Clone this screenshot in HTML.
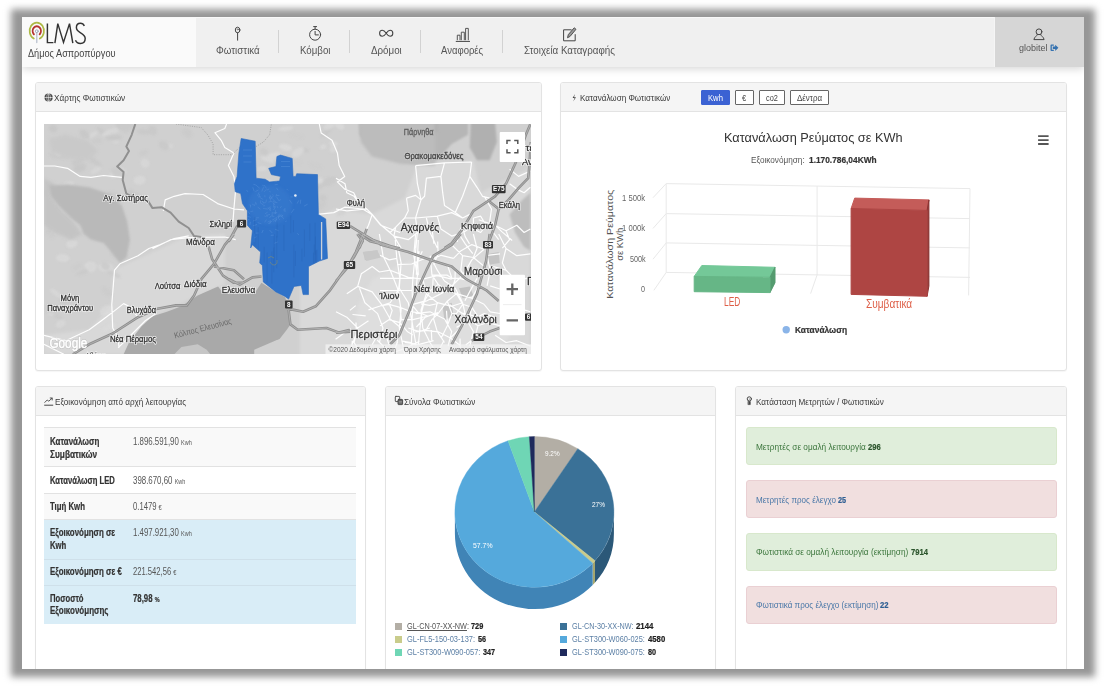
<!DOCTYPE html>
<html lang="el">
<head>
<meta charset="utf-8">
<title>LMS - Δήμος Ασπροπύργου</title>
<style>
html,body{margin:0;padding:0;background:#fff;}
body{width:1106px;height:686px;overflow:hidden;position:relative;font-family:"Liberation Sans",sans-serif;}
#frame{position:absolute;left:22px;top:17px;width:1062px;height:652px;background:#fff;overflow:hidden;}
#shadow{position:absolute;left:11px;top:9px;width:1084px;height:668px;background:#969696;filter:blur(3.6px);}
.t{position:absolute;white-space:nowrap;line-height:1;transform-origin:0 50%;display:inline-block;}
.abs{position:absolute;}
#hdr{position:absolute;left:0;top:0;width:1062px;height:49.5px;background:#f0f0f0;box-shadow:0 2px 8px rgba(0,0,0,.16);border-top:1px solid #f8f8f8;box-sizing:border-box;}
#logo{position:absolute;left:0;top:0;width:174px;height:100%;background:#fafafa;}
#user{position:absolute;left:972px;top:-1px;width:90px;bottom:0;background:#d6d6d6;border-left:1px solid #f5f5f5;box-sizing:border-box;}
.sep{position:absolute;top:11.5px;width:1.2px;height:23px;background:#d2d2d2;}
.panel{position:absolute;background:#fff;border:1px solid #e3e3e3;border-radius:3px;box-sizing:border-box;box-shadow:0 1px 1px rgba(0,0,0,.04);}
.ph{position:absolute;left:0;top:0;right:0;height:28px;background:#f5f5f5;border-bottom:1px solid #e3e3e3;border-radius:2px 2px 0 0;}
.row{position:absolute;left:22px;width:312px;box-sizing:border-box;border-top:1px solid #e2e2e2;}
.alert{position:absolute;left:724px;width:311px;height:38px;box-sizing:border-box;border-radius:3px;}
.ok{background:#e0eedb;border:1px solid #d8e8cc;}
.bad{background:#f1dfdf;border:1px solid #ead0d3;}
.btn{position:absolute;top:72.6px;height:15.4px;box-sizing:border-box;border:1px solid #666;border-radius:1px;background:#fff;}
.lg{position:absolute;width:7px;height:7px;}
</style>
</head>
<body>
<div id="shadow"></div>
<div id="frame">
  <div id="hdr">
    <div id="logo"></div>
    <div id="user"></div>
    <div class="sep" style="left:256px"></div>
    <div class="sep" style="left:327px"></div>
    <div class="sep" style="left:398px"></div>
    <div class="sep" style="left:480px"></div>
  </div>

  <!-- map panel -->
  <div class="panel" style="left:13px;top:65px;width:507px;height:289px"><div class="ph"></div></div>
  <svg class="abs" style="left:22px;top:107px" width="486.6" height="230.3" viewBox="44 124 486.6 230.3" font-family="Liberation Sans, sans-serif">
<defs><filter id="b2" x="-20%" y="-20%" width="140%" height="140%"><feGaussianBlur stdDeviation="1.6"/></filter><filter id="b1" x="-20%" y="-20%" width="140%" height="140%"><feGaussianBlur stdDeviation="1"/></filter></defs>
<rect x="44" y="124" width="487" height="231" fill="#d0d0d0"/>
<path d="M336.0 209.0 L372.2 214.4 L404.7 198.1 L417.4 165.6 L473.4 160.2 L480.7 192.7 L498.7 183.7 L530.4 167.4 L530.4 359.1 L299.8 359.1 L299.8 225.3 Z" fill="#d9d9d9" filter="url(#b2)"/>
<path d="M372.2 279.2 L408.3 261.1 L462.6 255.7 L498.7 279.2 L516.8 324.4 L498.7 354.3 L354.1 354.3 L357.7 306.3 Z" fill="#dedede" filter="url(#b2)"/>
<path d="M112.7 270.2 L188.7 235.8 L224.8 234.0 L224.8 284.6 L197.7 295.5 L152.5 316.3 L123.6 354.3 L44.0 354.3 L44.0 335.3 L89.2 329.8 L111.8 304.5 Z" fill="#d8d8d8" filter="url(#b2)"/>
<g filter="url(#b1)" opacity=".6"><ellipse cx="91.3" cy="135.5" rx="7.6" ry="2.2" fill="#dcdcdc" transform="rotate(-32 91.3 135.5)"/><ellipse cx="129.1" cy="193.1" rx="4.5" ry="2.3" fill="#c4c4c4" transform="rotate(-34 129.1 193.1)"/><ellipse cx="57.2" cy="156.3" rx="8.8" ry="2.4" fill="#c9c9c9" transform="rotate(10 57.2 156.3)"/><ellipse cx="129.1" cy="128.7" rx="7.1" ry="2.1" fill="#c9c9c9" transform="rotate(-36 129.1 128.7)"/><ellipse cx="169.3" cy="146.0" rx="4.0" ry="2.4" fill="#dadada" transform="rotate(5 169.3 146.0)"/><ellipse cx="143.6" cy="131.8" rx="7.0" ry="2.6" fill="#c6c6c6" transform="rotate(4 143.6 131.8)"/><ellipse cx="53.2" cy="128.5" rx="4.4" ry="4.0" fill="#c4c4c4" transform="rotate(22 53.2 128.5)"/><ellipse cx="112.0" cy="194.2" rx="5.5" ry="2.7" fill="#c9c9c9" transform="rotate(16 112.0 194.2)"/><ellipse cx="79.6" cy="167.7" rx="6.7" ry="4.6" fill="#c4c4c4" transform="rotate(-17 79.6 167.7)"/><ellipse cx="187.1" cy="133.0" rx="5.9" ry="4.3" fill="#c9c9c9" transform="rotate(35 187.1 133.0)"/><ellipse cx="105.6" cy="197.1" rx="3.5" ry="3.7" fill="#dadada" transform="rotate(-13 105.6 197.1)"/><ellipse cx="95.1" cy="161.7" rx="8.6" ry="2.2" fill="#c6c6c6" transform="rotate(36 95.1 161.7)"/><ellipse cx="113.2" cy="174.5" rx="3.4" ry="4.1" fill="#dcdcdc" transform="rotate(39 113.2 174.5)"/><ellipse cx="164.0" cy="145.6" rx="5.7" ry="4.0" fill="#c6c6c6" transform="rotate(35 164.0 145.6)"/><ellipse cx="95.9" cy="170.4" rx="6.5" ry="2.7" fill="#dadada" transform="rotate(-30 95.9 170.4)"/><ellipse cx="80.2" cy="153.7" rx="9.1" ry="2.2" fill="#c4c4c4" transform="rotate(-8 80.2 153.7)"/><ellipse cx="84.6" cy="134.4" rx="6.0" ry="3.7" fill="#c4c4c4" transform="rotate(39 84.6 134.4)"/><ellipse cx="143.7" cy="152.9" rx="4.6" ry="2.2" fill="#c9c9c9" transform="rotate(-21 143.7 152.9)"/><ellipse cx="78.1" cy="160.9" rx="7.1" ry="2.8" fill="#c6c6c6" transform="rotate(-28 78.1 160.9)"/><ellipse cx="122.1" cy="170.3" rx="5.2" ry="2.4" fill="#dcdcdc" transform="rotate(36 122.1 170.3)"/><ellipse cx="139.6" cy="180.2" rx="6.2" ry="4.6" fill="#dcdcdc" transform="rotate(-9 139.6 180.2)"/><ellipse cx="102.3" cy="131.9" rx="7.4" ry="2.2" fill="#c6c6c6" transform="rotate(39 102.3 131.9)"/><ellipse cx="108.3" cy="132.4" rx="7.2" ry="2.3" fill="#dcdcdc" transform="rotate(-28 108.3 132.4)"/><ellipse cx="58.8" cy="151.6" rx="3.2" ry="4.6" fill="#dcdcdc" transform="rotate(-10 58.8 151.6)"/><ellipse cx="136.6" cy="196.6" rx="7.2" ry="3.4" fill="#c6c6c6" transform="rotate(28 136.6 196.6)"/><ellipse cx="114.6" cy="130.5" rx="3.7" ry="3.0" fill="#dadada" transform="rotate(-2 114.6 130.5)"/><ellipse cx="145.0" cy="163.2" rx="4.4" ry="4.9" fill="#dadada" transform="rotate(-28 145.0 163.2)"/><ellipse cx="123.3" cy="126.1" rx="6.7" ry="4.9" fill="#c6c6c6" transform="rotate(16 123.3 126.1)"/><ellipse cx="82.1" cy="151.9" rx="4.2" ry="4.3" fill="#dcdcdc" transform="rotate(3 82.1 151.9)"/><ellipse cx="117.4" cy="172.4" rx="7.3" ry="4.4" fill="#c9c9c9" transform="rotate(24 117.4 172.4)"/><ellipse cx="77.1" cy="163.3" rx="5.5" ry="2.1" fill="#c6c6c6" transform="rotate(23 77.1 163.3)"/><ellipse cx="112.9" cy="138.7" rx="7.2" ry="3.0" fill="#dadada" transform="rotate(36 112.9 138.7)"/><ellipse cx="97.2" cy="140.8" rx="4.6" ry="2.6" fill="#c9c9c9" transform="rotate(-1 97.2 140.8)"/><ellipse cx="44.3" cy="193.1" rx="5.4" ry="3.9" fill="#c6c6c6" transform="rotate(33 44.3 193.1)"/><ellipse cx="113.8" cy="137.6" rx="8.5" ry="3.0" fill="#c4c4c4" transform="rotate(-3 113.8 137.6)"/><ellipse cx="152.5" cy="130.5" rx="4.1" ry="5.0" fill="#c6c6c6" transform="rotate(-28 152.5 130.5)"/><ellipse cx="65.3" cy="186.8" rx="9.9" ry="4.0" fill="#dadada" transform="rotate(-28 65.3 186.8)"/><ellipse cx="124.0" cy="125.6" rx="8.6" ry="4.2" fill="#c6c6c6" transform="rotate(2 124.0 125.6)"/><ellipse cx="74.8" cy="143.1" rx="5.1" ry="2.7" fill="#dcdcdc" transform="rotate(-14 74.8 143.1)"/><ellipse cx="85.4" cy="308.4" rx="3.4" ry="4.2" fill="#dddddd" transform="rotate(13 85.4 308.4)"/><ellipse cx="105.9" cy="267.2" rx="8.0" ry="4.6" fill="#dbdbdb" transform="rotate(3 105.9 267.2)"/><ellipse cx="83.8" cy="202.4" rx="5.6" ry="2.5" fill="#c8c8c8" transform="rotate(22 83.8 202.4)"/><ellipse cx="55.4" cy="218.4" rx="6.7" ry="2.4" fill="#c8c8c8" transform="rotate(-14 55.4 218.4)"/><ellipse cx="83.4" cy="272.2" rx="7.7" ry="2.3" fill="#c8c8c8" transform="rotate(-20 83.4 272.2)"/><ellipse cx="65.0" cy="300.4" rx="6.0" ry="3.7" fill="#c8c8c8" transform="rotate(-5 65.0 300.4)"/><ellipse cx="90.6" cy="265.7" rx="6.1" ry="4.1" fill="#dddddd" transform="rotate(1 90.6 265.7)"/><ellipse cx="105.4" cy="266.0" rx="4.5" ry="3.6" fill="#cbcbcb" transform="rotate(34 105.4 266.0)"/><ellipse cx="111.8" cy="226.3" rx="5.7" ry="3.2" fill="#dddddd" transform="rotate(-5 111.8 226.3)"/><ellipse cx="49.5" cy="231.3" rx="3.4" ry="4.0" fill="#c8c8c8" transform="rotate(32 49.5 231.3)"/><ellipse cx="55.7" cy="293.1" rx="7.0" ry="2.4" fill="#dbdbdb" transform="rotate(37 55.7 293.1)"/><ellipse cx="60.7" cy="323.8" rx="5.4" ry="3.5" fill="#dbdbdb" transform="rotate(-27 60.7 323.8)"/><ellipse cx="76.8" cy="267.0" rx="5.0" ry="2.6" fill="#cbcbcb" transform="rotate(-33 76.8 267.0)"/><ellipse cx="71.8" cy="243.9" rx="5.8" ry="4.1" fill="#dddddd" transform="rotate(-13 71.8 243.9)"/><ellipse cx="91.4" cy="266.6" rx="3.4" ry="5.0" fill="#dbdbdb" transform="rotate(38 91.4 266.6)"/><ellipse cx="52.0" cy="234.5" rx="3.2" ry="4.3" fill="#cbcbcb" transform="rotate(20 52.0 234.5)"/><ellipse cx="106.3" cy="310.4" rx="7.1" ry="4.8" fill="#dddddd" transform="rotate(-28 106.3 310.4)"/><ellipse cx="113.9" cy="274.2" rx="7.2" ry="2.3" fill="#c8c8c8" transform="rotate(24 113.9 274.2)"/><ellipse cx="57.9" cy="316.4" rx="4.6" ry="2.1" fill="#c8c8c8" transform="rotate(24 57.9 316.4)"/><ellipse cx="50.4" cy="311.3" rx="3.4" ry="4.6" fill="#dddddd" transform="rotate(-39 50.4 311.3)"/><ellipse cx="119.6" cy="254.3" rx="8.5" ry="3.9" fill="#c8c8c8" transform="rotate(2 119.6 254.3)"/><ellipse cx="62.1" cy="214.2" rx="4.0" ry="2.2" fill="#dbdbdb" transform="rotate(35 62.1 214.2)"/><ellipse cx="91.8" cy="269.0" rx="4.2" ry="3.3" fill="#dbdbdb" transform="rotate(-18 91.8 269.0)"/><ellipse cx="105.1" cy="329.3" rx="3.2" ry="2.1" fill="#dbdbdb" transform="rotate(1 105.1 329.3)"/><ellipse cx="62.7" cy="258.1" rx="6.9" ry="4.0" fill="#dddddd" transform="rotate(4 62.7 258.1)"/><ellipse cx="111.5" cy="326.1" rx="4.8" ry="2.6" fill="#dbdbdb" transform="rotate(-13 111.5 326.1)"/><ellipse cx="107.3" cy="291.9" rx="6.8" ry="3.2" fill="#cbcbcb" transform="rotate(39 107.3 291.9)"/><ellipse cx="107.6" cy="201.9" rx="6.8" ry="4.6" fill="#dddddd" transform="rotate(-27 107.6 201.9)"/><ellipse cx="50.4" cy="309.4" rx="8.2" ry="4.0" fill="#cbcbcb" transform="rotate(8 50.4 309.4)"/><ellipse cx="96.6" cy="205.9" rx="4.1" ry="2.8" fill="#c8c8c8" transform="rotate(-19 96.6 205.9)"/><ellipse cx="341.8" cy="212.5" rx="5.7" ry="2.5" fill="#cdcdcd" transform="rotate(-23 341.8 212.5)"/><ellipse cx="277.2" cy="154.5" rx="3.4" ry="2.6" fill="#dcdcdc" transform="rotate(-20 277.2 154.5)"/><ellipse cx="326.4" cy="132.3" rx="7.1" ry="2.3" fill="#c6c6c6" transform="rotate(-37 326.4 132.3)"/><ellipse cx="263.9" cy="151.7" rx="4.2" ry="3.2" fill="#c6c6c6" transform="rotate(28 263.9 151.7)"/><ellipse cx="274.9" cy="205.2" rx="6.9" ry="3.2" fill="#cdcdcd" transform="rotate(18 274.9 205.2)"/><ellipse cx="303.0" cy="149.9" rx="6.1" ry="2.3" fill="#c6c6c6" transform="rotate(10 303.0 149.9)"/><ellipse cx="322.9" cy="197.9" rx="3.7" ry="3.0" fill="#c6c6c6" transform="rotate(5 322.9 197.9)"/><ellipse cx="329.5" cy="125.5" rx="6.4" ry="3.6" fill="#dcdcdc" transform="rotate(-33 329.5 125.5)"/><ellipse cx="265.5" cy="182.0" rx="7.8" ry="2.8" fill="#dedede" transform="rotate(5 265.5 182.0)"/><ellipse cx="314.1" cy="181.0" rx="6.4" ry="3.0" fill="#c9c9c9" transform="rotate(-3 314.1 181.0)"/><ellipse cx="267.8" cy="208.9" rx="7.5" ry="2.2" fill="#c6c6c6" transform="rotate(-35 267.8 208.9)"/><ellipse cx="323.2" cy="146.9" rx="3.4" ry="2.5" fill="#dcdcdc" transform="rotate(-22 323.2 146.9)"/><ellipse cx="315.9" cy="165.9" rx="7.2" ry="2.2" fill="#cdcdcd" transform="rotate(21 315.9 165.9)"/><ellipse cx="313.2" cy="182.5" rx="3.4" ry="2.3" fill="#cdcdcd" transform="rotate(12 313.2 182.5)"/><ellipse cx="319.5" cy="180.5" rx="3.7" ry="3.0" fill="#dedede" transform="rotate(-18 319.5 180.5)"/><ellipse cx="317.8" cy="187.0" rx="6.4" ry="2.6" fill="#c6c6c6" transform="rotate(-17 317.8 187.0)"/><ellipse cx="300.7" cy="193.8" rx="8.0" ry="3.1" fill="#cdcdcd" transform="rotate(38 300.7 193.8)"/><ellipse cx="339.7" cy="125.6" rx="5.3" ry="3.6" fill="#dedede" transform="rotate(40 339.7 125.6)"/><ellipse cx="294.1" cy="207.4" rx="7.7" ry="2.1" fill="#c9c9c9" transform="rotate(-29 294.1 207.4)"/><ellipse cx="305.5" cy="210.7" rx="3.7" ry="3.6" fill="#c6c6c6" transform="rotate(-18 305.5 210.7)"/><ellipse cx="271.4" cy="157.2" rx="5.5" ry="3.8" fill="#dedede" transform="rotate(-38 271.4 157.2)"/><ellipse cx="262.3" cy="168.7" rx="5.3" ry="2.6" fill="#dcdcdc" transform="rotate(-7 262.3 168.7)"/><ellipse cx="293.2" cy="135.0" rx="4.7" ry="2.6" fill="#cdcdcd" transform="rotate(27 293.2 135.0)"/><ellipse cx="272.0" cy="208.3" rx="6.6" ry="3.8" fill="#cdcdcd" transform="rotate(-20 272.0 208.3)"/><ellipse cx="267.4" cy="159.5" rx="7.3" ry="2.2" fill="#dedede" transform="rotate(20 267.4 159.5)"/><ellipse cx="332.9" cy="149.5" rx="3.3" ry="3.3" fill="#dcdcdc" transform="rotate(-20 332.9 149.5)"/><ellipse cx="284.1" cy="170.5" rx="3.9" ry="2.7" fill="#dedede" transform="rotate(31 284.1 170.5)"/><ellipse cx="329.4" cy="181.4" rx="7.6" ry="3.9" fill="#c6c6c6" transform="rotate(-24 329.4 181.4)"/><ellipse cx="268.7" cy="208.9" rx="5.1" ry="3.2" fill="#dcdcdc" transform="rotate(12 268.7 208.9)"/><ellipse cx="285.8" cy="128.5" rx="7.6" ry="2.3" fill="#dedede" transform="rotate(-7 285.8 128.5)"/><ellipse cx="285.4" cy="147.3" rx="6.7" ry="3.3" fill="#dedede" transform="rotate(12 285.4 147.3)"/><ellipse cx="287.0" cy="174.7" rx="5.0" ry="2.3" fill="#dcdcdc" transform="rotate(-34 287.0 174.7)"/><ellipse cx="303.6" cy="197.9" rx="5.8" ry="2.9" fill="#cdcdcd" transform="rotate(40 303.6 197.9)"/><ellipse cx="299.3" cy="136.7" rx="4.0" ry="2.2" fill="#cdcdcd" transform="rotate(4 299.3 136.7)"/><ellipse cx="288.5" cy="157.5" rx="7.0" ry="2.4" fill="#c9c9c9" transform="rotate(20 288.5 157.5)"/><ellipse cx="296.3" cy="161.7" rx="5.6" ry="2.8" fill="#cdcdcd" transform="rotate(20 296.3 161.7)"/><ellipse cx="303.3" cy="176.3" rx="4.8" ry="3.4" fill="#c6c6c6" transform="rotate(10 303.3 176.3)"/><ellipse cx="333.6" cy="143.7" rx="4.4" ry="2.5" fill="#dedede" transform="rotate(12 333.6 143.7)"/><ellipse cx="297.8" cy="152.4" rx="7.1" ry="3.9" fill="#dcdcdc" transform="rotate(-37 297.8 152.4)"/><ellipse cx="320.9" cy="205.5" rx="5.4" ry="3.2" fill="#c9c9c9" transform="rotate(-34 320.9 205.5)"/></g>
<path d="M44.0 178.2 L54.8 183.7 L51.2 196.3 L60.3 209.0 L72.9 221.6 L82.0 234.3 L71.1 239.7 L54.8 232.5 L44.0 225.3 Z" fill="#c4c4c4" filter="url(#b2)"/>
<path d="M49.4 138.5 L65.7 134.8 L87.4 140.3 L98.2 151.1 L89.2 160.2 L65.7 158.4 L51.2 151.1 Z" fill="#c9c9c9" filter="url(#b2)"/>
<path d="M49.4 185.5 L67.5 184.6 L89.2 187.3 L110.9 194.5 L121.8 205.4 L127.2 221.6 L129.9 239.7 L129.0 244.8 L126.3 257.5 L119.9 262.9 L112.7 253.8 L103.7 243.0 L91.0 239.4 L83.8 233.9 L80.2 225.3 L71.1 218.0 L58.5 205.4 L51.2 196.3 Z" fill="#b9b9b9" filter="url(#b1)"/>
<path d="M359.5 122.2 L359.5 134.8 L372.2 151.1 L395.7 160.2 L415.6 163.8 L437.3 160.2 L451.7 143.9 L468.0 134.8 L468.0 122.2 Z" fill="#b6b6b6" filter="url(#b1)"/>
<path d="M368.5 122.2 L377.6 140.3 L401.1 149.3 L422.8 143.9 L437.3 131.2 L437.3 122.2 Z" fill="#aeaeae" filter="url(#b2)"/>
<path d="M470.7 122.2 L469.8 147.5 L477.0 160.2 L489.7 160.2 L496.9 142.1 L495.1 122.2 Z" fill="#b0b0b0" filter="url(#b1)"/>
<path d="M530.4 192.7 L522.3 199.9 L509.6 214.4 L515.0 232.5 L524.1 247.0 L530.4 250.6 Z" fill="#bdbdbd" filter="url(#b1)"/>
<path d="M359.1 122.2 L360.9 142.1 L371.8 156.5 L400.0 163.8 L435.1 165.6 L435.1 122.2 Z" fill="#bcbcbc" filter="url(#b2)"/>
<path d="M459.0 288.2 L469.8 286.4 L473.4 295.5 L462.6 298.2 Z" fill="#c2c2c2" />
<path d="M442.7 306.3 L451.7 302.7 L453.5 315.4 L444.5 320.8 Z" fill="#c4c4c4" />
<path d="M363.1 252.1 L377.6 250.3 L378.5 257.5 L364.9 260.2 Z" fill="#c6c6c6" />
<path d="M487.9 253.9 L498.7 252.1 L499.7 262.9 L488.8 264.7 Z" fill="#c4c4c4" />
<path d="M362.7 252.1 L377.2 250.3 L380.8 257.5 L366.4 261.1 Z" fill="#c8c8c8" />
<path d="M123.6 354.3 L129.0 342.5 L141.6 326.2 L152.5 316.3 L167.0 311.8 L181.4 306.3 L197.7 295.5 L214.0 288.2 L218.1 286.4 L223.5 293.7 L254.2 293.7 L261.5 282.8 L275.9 291.9 L285.0 297.3 L288.6 306.3 L290.4 324.4 L286.8 329.8 L279.6 338.9 L254.2 349.7 L254.2 354.3 Z" fill="#a9a9a9"/>
<path d="M174.2 354.3 L181.4 347.0 L197.7 344.3 L206.7 349.7 L210.4 354.3 Z" fill="#c6c6c6" />
<path d="M44.0 166.0 L54.8 166.0 L67.5 168.3 L80.2 176.4 L91.0 177.3 L103.7 175.5 L121.8 177.3 M163.3 210.8 L165.2 199.9 L174.2 196.3 L185.0 193.6 L203.1 194.5 L217.6 203.6 L233.9 209.0 L244.0 209.9 M152.5 248.8 L170.6 239.7 L188.7 237.6 L224.8 237.0 L235.7 239.7 M226.6 124.0 L224.8 128.5 L214.9 132.7 L221.2 140.3 L224.8 147.5 L233.9 152.9 L228.4 165.6 L233.9 176.4 L235.7 189.1 L233.9 209.0 L233.0 221.6 M44.0 335.3 L65.7 340.7 L89.2 329.8 L103.7 319.0 L110.9 313.6 L123.6 303.6 L129.0 306.3 L138.0 317.2 M188.7 235.8 L174.2 238.5 L159.7 244.8 L148.9 248.5 L138.0 255.7 L119.9 263.8 L114.5 270.2 L111.8 304.5 L112.7 328.0 L118.1 337.1 L119.0 347.9 M118.1 347.9 L130.8 335.3 L145.3 320.8 L156.1 313.6 M44.0 344.3 L54.8 349.7 L63.9 354.3 M319.3 124.0 L321.2 133.0 L332.0 140.3 L337.4 152.9 L339.2 165.6 L344.7 176.4 L337.4 181.9 L344.7 189.1 L353.7 192.7 L357.3 199.9 M317.5 214.4 L333.8 212.6 L344.7 207.2 L362.7 209.0 L371.8 214.4 L380.8 225.3 L400.0 232.5 M415.6 165.6 L417.4 183.7 L421.0 199.9 L415.6 218.0 L417.4 232.5 L415.6 248.1 M415.6 165.6 L444.5 162.9 L471.6 162.0 M444.5 162.9 L440.9 176.4 L426.4 178.2 L424.6 196.3 L421.0 199.9 M440.9 176.4 L442.7 192.7 L444.5 205.4 L455.3 212.6 L462.6 218.0 M471.6 162.0 L469.8 176.4 L477.0 187.3 L482.5 196.3 L489.7 198.1 M469.8 176.4 L462.6 196.3 L455.3 212.6 M406.5 198.1 L415.6 195.4 L421.0 199.9 M406.5 198.1 L408.3 210.8 L404.7 218.0 L395.7 227.1 L393.9 236.1 M336.0 209.0 L346.8 210.8 L366.7 209.0 L372.2 214.4 L381.2 225.3 L393.9 236.1 L401.1 248.1 M372.2 214.4 L368.5 225.3 L363.1 236.1 L359.5 248.1 M404.7 218.0 L415.6 218.0 L437.3 216.2 L451.7 212.6 L462.6 218.0 L469.8 214.4 M336.0 178.2 L345.0 183.7 L346.8 192.7 L354.1 196.3 L359.5 203.6 L366.7 209.0 M484.3 196.3 L491.5 209.0 L489.7 221.6 L493.3 232.5 L498.7 239.7 M509.6 183.7 L516.8 189.1 L524.1 192.7 L530.4 187.3 M509.6 169.2 L518.6 176.4 L530.4 171.0 M473.4 218.0 L480.7 216.2 L486.1 225.3 L480.7 232.5 L473.4 228.9 L473.4 218.0 M393.9 236.1 L408.3 239.7 L417.4 232.5 M381.2 225.3 L390.2 232.5 L395.7 227.1 M426.4 218.0 L430.0 232.5 L437.3 248.1 M437.3 216.2 L440.9 228.9 L451.7 236.1 L462.6 232.5 M495.1 225.3 L506.0 230.7 L509.6 239.7 L502.4 248.1 M506.0 230.7 L516.8 225.3 L524.1 232.5 L530.4 228.9 M379.4 234.0 L383.0 255.7 L390.2 270.2 L397.5 288.2 L401.1 309.9 L399.3 328.0 L404.7 354.3 M397.5 244.8 L401.1 262.9 L399.3 288.2 L408.3 302.7 L411.9 320.8 L415.6 342.5 M415.6 234.0 L413.8 255.7 L417.4 275.6 L415.6 293.7 M357.7 286.4 L372.2 291.9 L383.0 306.3 L390.2 319.0 L401.1 328.0 M359.5 288.2 L364.9 302.7 L377.6 313.6 L383.0 328.0 L379.4 342.5 M368.5 309.9 L379.4 306.3 L390.2 302.7 L399.3 288.2 M379.4 272.0 L390.2 270.2 L408.3 277.4 L422.8 279.2 L437.3 275.6 L451.7 279.2 M422.8 279.2 L426.4 293.7 L437.3 302.7 L451.7 306.3 L462.6 302.7 M430.0 255.7 L437.3 270.2 L444.5 281.0 L455.3 288.2 L462.6 302.7 L466.2 319.0 M415.6 313.6 L430.0 311.8 L444.5 319.0 L451.7 331.6 L448.1 346.1 M426.4 293.7 L421.0 309.9 L422.8 328.0 L430.0 342.5 L437.3 354.3 M437.3 302.7 L433.6 319.0 L437.3 331.6 L444.5 342.5 M451.7 244.8 L462.6 255.7 L473.4 257.5 L484.3 266.5 M462.6 255.7 L460.8 270.2 L466.2 279.2 M473.4 234.0 L477.0 248.5 L473.4 257.5 M498.7 234.0 L506.0 248.5 L516.8 255.7 L530.4 253.9 M493.3 266.5 L506.0 270.2 L516.8 281.0 L530.4 277.4 M506.0 248.5 L502.4 262.9 L506.0 270.2 M451.7 306.3 L462.6 313.6 L473.4 319.0 L484.3 313.6 L495.1 317.2 M466.2 319.0 L473.4 331.6 L469.8 346.1 M368.5 320.8 L357.7 328.0 L354.1 342.5 L361.3 354.3 M336.0 311.8 L346.8 317.2 L357.7 328.0 M346.8 293.7 L357.7 286.4 L361.3 273.8 L372.2 266.5 L379.4 272.0 M408.3 328.0 L419.2 331.6 L430.0 328.0 M404.7 342.5 L419.2 344.3 L433.6 340.7 M516.8 281.0 L515.0 295.5 L524.1 309.9 L530.4 311.8 M495.1 335.3 L506.0 342.5 L516.8 340.7 L530.4 346.1 M395.3 240.0 L396.8 258.4 L399.9 278.3 L398.4 290.5 M416.7 240.0 L415.2 255.3 L412.9 278.3 L412.1 290.5 L412.9 304.3 L412.1 319.6 L411.4 345.0 M418.3 240.0 L417.5 258.4 L418.3 275.2 M380.0 278.3 L399.9 278.3 L412.9 278.3 M380.0 305.8 L389.2 304.3 L399.9 307.3 L407.6 310.4 L412.9 311.9 M412.9 304.3 L425.9 301.2 L438.2 295.1 L447.3 290.5 L459.6 278.3 L465.7 270.6 M412.9 319.6 L425.9 316.5 L438.2 313.5 L447.3 301.2 L456.5 293.6 M430.5 259.9 L432.0 275.2 L438.2 284.4 L447.3 290.5 L456.5 293.6 L471.8 298.2 L484.1 304.3 M425.9 330.3 L432.0 319.6 L438.2 313.5 M415.2 331.8 L425.9 330.3 L438.2 331.8 L450.4 338.0 L459.6 345.0 M438.2 284.4 L430.5 290.5 L424.4 301.2 L421.3 313.5 L419.8 330.3 L418.3 345.0 M447.3 264.5 L451.9 278.3 L459.6 278.3 M453.5 258.4 L461.1 250.7 L471.8 244.6 L484.1 249.2 M447.3 301.2 L451.9 313.5 L447.3 325.7 L441.2 338.0 M456.5 293.6 L462.7 304.3 L471.8 307.3 L478.0 316.5 M471.8 298.2 L478.0 287.4 M389.2 319.6 L399.9 322.7 L407.6 331.8 L412.9 334.9 M380.0 325.7 L389.2 319.6 L392.2 310.4 L389.2 304.3 M399.9 307.3 L401.4 319.6 L399.9 322.7 M478.0 316.5 L487.1 322.7 L500.0 325.7 M484.1 304.3 L490.2 311.9 L500.0 313.5 M430.5 259.9 L441.2 255.3 L453.5 258.4 M459.6 278.3 L471.8 281.3 L478.0 287.4 M465.7 270.6 L471.8 259.9 L484.1 249.2 M487.1 255.3 L490.2 270.6 L487.1 285.9 M487.1 255.3 L500.0 253.8 M380.0 255.3 L389.2 259.9 L396.8 258.4 M380.0 290.5 L398.4 290.5 L412.1 290.5 M401.4 319.6 L412.9 319.6 M432.0 275.2 L447.3 275.2 L451.9 278.3 M424.4 301.2 L412.9 304.3 M421.3 313.5 L412.9 311.9 M462.7 304.3 L456.5 313.5 L451.9 313.5 M471.8 307.3 L468.8 319.6 L459.6 328.8 L450.4 338.0 M468.8 319.6 L478.0 325.7 L487.1 322.7 M478.0 325.7 L474.9 338.0 L465.7 345.0 M490.2 285.9 L500.0 289.0 M384.6 331.8 L389.2 345.0 M398.4 331.8 L396.8 345.0 M411.2 304.0 L418.1 312.3 L428.1 316.3 M477.1 278.3 L470.9 289.4 L464.9 300.7 M455.3 268.6 L455.0 279.7 L451.6 290.4 M402.5 341.2 L409.7 342.4 L416.4 345.2 M481.7 319.3 L468.4 321.0 L456.6 327.4 M425.2 258.2 L411.7 264.0 L397.0 264.7 M431.3 330.0 L431.8 340.3 M460.0 338.6 L460.3 351.0 M420.9 303.8 L429.5 305.3 L438.0 303.5 M438.0 312.5 L425.4 317.1 L416.4 327.0 M432.0 292.4 L443.9 291.8 M449.5 304.6 L461.8 313.2 L476.4 316.4 M443.9 340.4 L439.8 348.5 L433.1 354.6 M419.5 341.3 L407.0 347.5 L394.0 352.4 M446.5 310.8 L447.4 323.5 M433.1 278.2 L432.8 285.3 L433.8 292.3 M437.7 241.5 L438.1 253.5 L433.7 264.7 M460.9 227.6 L458.6 234.7 L457.2 242.0 M462.8 228.4 L465.2 236.6 L469.5 243.9 M478.7 219.7 L490.5 223.9 M422.3 251.2 L416.9 262.4 L416.4 274.8 M432.2 230.0 L433.9 243.8 M474.2 224.8 L463.4 232.6 M419.1 251.3 L418.1 261.0 L416.1 270.5 M458.9 234.0 L465.4 244.1 L472.8 253.7 M492.1 222.0 L501.8 231.6 L512.2 240.5 M397.5 341.7 L393.9 351.8 L386.2 359.1 M377.2 340.0 L387.6 350.5 M352.3 340.7 L351.2 354.8 L350.3 369.0 M356.0 322.6 L356.4 333.8 L352.3 344.2 M355.7 305.6 L349.9 310.4 M376.7 336.8 L372.1 344.7 M350.4 328.3 L343.1 333.8 L335.6 339.2 M352.5 314.5 L365.7 315.9" fill="none" stroke="#fff" stroke-width="1.2" stroke-linejoin="round" opacity=".96"/>
<path d="M135.3 124.0 L131.7 134.8 L126.3 146.6 L129.0 151.1 L123.6 160.2 L117.2 166.5 L123.6 171.9 L122.7 180.1 L126.3 193.6 L134.4 198.1 L148.0 200.9 L152.5 208.1 L161.5 207.2 L170.6 212.6 L178.7 221.6 L188.7 228.0 L194.1 236.1 L201.3 237.0" fill="none" stroke="#909090" stroke-width="2" stroke-linejoin="round"/>
<path d="M176.0 124.0 L201.3 127.6 L207.7 134.8 L213.1 143.9 L213.1 154.7 L232.1 154.7 L239.3 147.5 M256.0 146.6 L263.3 142.1 L269.6 134.8 L271.4 124.0" fill="none" stroke="#888" stroke-width=".6" stroke-dasharray="1 1.3"/>
<path d="M72.9 354.3 L89.2 344.3 L112.7 333.5 L138.0 317.2 L156.1 309.0 L176.0 305.4 L186.9 305.4 L194.1 295.5 L201.3 279.2 L214.0 263.8 L224.8 244.8 L233.9 234.0 M233.9 234.0 L229.0 241.0 L237.0 226.5 L241.0 223.0 M208.6 246.7 L212.2 259.3 L223.0 275.6 L233.9 282.8 L244.0 282.8 M214.0 266.5 L233.9 270.2 L244.0 279.2 M228.9 279.2 L239.8 284.6 L252.4 277.4 L261.5 276.5 M530.4 124.0 L525.9 134.8 L516.8 160.2 L506.0 183.7 L495.1 196.3 L473.4 210.8 L462.6 228.9 L451.7 243.3 L444.5 248.1 M350.1 226.2 L372.2 239.7 L395.7 248.1 M489.7 201.8 L498.7 209.0 L495.1 225.3 L489.7 239.7 L487.9 248.1 M530.9 142.1 L529.5 164.3 L528.2 178.2 L519.0 187.7 L508.5 199.9 L498.7 209.0 M366.7 228.9 L359.5 248.1 M363.1 234.0 L381.2 244.8 L408.3 252.1 L433.6 261.1 L451.7 266.5 L466.2 279.2 L486.1 290.1 L498.7 300.9 M460.8 234.0 L451.7 244.8 L433.6 255.7 L426.4 270.2 L415.6 293.7 L408.3 313.6 L399.3 335.3 L390.2 344.3 M489.7 234.0 L486.1 261.1 L477.0 293.7 L462.6 324.4 L451.7 344.3 M363.1 234.0 L355.9 252.1 L346.8 268.4 L336.0 281.0 M336.0 332.6 L350.5 331.6 M471.6 340.7 L489.7 331.6 L499.7 328.0 M288.6 309.0 L294.0 309.9 L303.1 311.8 L315.7 306.3 L330.2 290.1 L342.9 272.0 L353.7 257.5 L362.7 241.2 L357.3 234.0 M288.6 309.9 L290.4 324.4 L297.6 329.8 L326.6 328.0 L339.2 332.6 L350.1 329.8 M359.1 234.0 L370.0 241.2 L400.0 248.5" fill="none" stroke="#8e8e8e" stroke-width="2.6" stroke-linejoin="round"/>
<path d="M72.9 354.3 L89.2 344.3 L112.7 333.5 L138.0 317.2 L156.1 309.0 L176.0 305.4 L186.9 305.4 L194.1 295.5 L201.3 279.2 L214.0 263.8 L224.8 244.8 L233.9 234.0 M233.9 234.0 L229.0 241.0 L237.0 226.5 L241.0 223.0 M208.6 246.7 L212.2 259.3 L223.0 275.6 L233.9 282.8 L244.0 282.8 M214.0 266.5 L233.9 270.2 L244.0 279.2 M228.9 279.2 L239.8 284.6 L252.4 277.4 L261.5 276.5 M530.4 124.0 L525.9 134.8 L516.8 160.2 L506.0 183.7 L495.1 196.3 L473.4 210.8 L462.6 228.9 L451.7 243.3 L444.5 248.1 M350.1 226.2 L372.2 239.7 L395.7 248.1 M489.7 201.8 L498.7 209.0 L495.1 225.3 L489.7 239.7 L487.9 248.1 M530.9 142.1 L529.5 164.3 L528.2 178.2 L519.0 187.7 L508.5 199.9 L498.7 209.0 M366.7 228.9 L359.5 248.1 M363.1 234.0 L381.2 244.8 L408.3 252.1 L433.6 261.1 L451.7 266.5 L466.2 279.2 L486.1 290.1 L498.7 300.9 M460.8 234.0 L451.7 244.8 L433.6 255.7 L426.4 270.2 L415.6 293.7 L408.3 313.6 L399.3 335.3 L390.2 344.3 M489.7 234.0 L486.1 261.1 L477.0 293.7 L462.6 324.4 L451.7 344.3 M363.1 234.0 L355.9 252.1 L346.8 268.4 L336.0 281.0 M336.0 332.6 L350.5 331.6 M471.6 340.7 L489.7 331.6 L499.7 328.0 M288.6 309.0 L294.0 309.9 L303.1 311.8 L315.7 306.3 L330.2 290.1 L342.9 272.0 L353.7 257.5 L362.7 241.2 L357.3 234.0 M288.6 309.9 L290.4 324.4 L297.6 329.8 L326.6 328.0 L339.2 332.6 L350.1 329.8 M359.1 234.0 L370.0 241.2 L400.0 248.5" fill="none" stroke="#bdbdbd" stroke-width=".7" stroke-linejoin="round"/>
<clipPath id="bp"><path d="M241.2 138.5 L255.2 141.2 L256.1 178.2 L265.1 179.2 L269.6 181.9 L279.6 181.0 L280.5 176.4 L271.4 174.6 L268.7 168.3 L275.9 166.5 L276.9 156.5 L280.5 155.1 L292.2 158.4 L293.1 176.4 L295.8 176.4 L296.7 173.7 L317.5 174.6 L318.4 214.4 L325.7 218.9 L327.5 258.4 L319.3 261.1 L308.5 266.5 L308.5 294.6 L303.1 294.6 L301.3 285.5 L294.0 286.4 L288.6 299.1 L285.0 296.4 L275.9 291.9 L263.3 281.9 L262.4 265.6 L259.7 262.9 L260.6 252.1 L252.4 244.8 L250.6 248.0 L252.4 230.7 L247.4 225.3 L247.4 210.8 L242.5 203.6 L240.7 193.6 L235.3 191.8 L234.4 183.7 L237.1 176.4 L238.9 152.9 Z"/></clipPath>
<path d="M241.2 138.5 L255.2 141.2 L256.1 178.2 L265.1 179.2 L269.6 181.9 L279.6 181.0 L280.5 176.4 L271.4 174.6 L268.7 168.3 L275.9 166.5 L276.9 156.5 L280.5 155.1 L292.2 158.4 L293.1 176.4 L295.8 176.4 L296.7 173.7 L317.5 174.6 L318.4 214.4 L325.7 218.9 L327.5 258.4 L319.3 261.1 L308.5 266.5 L308.5 294.6 L303.1 294.6 L301.3 285.5 L294.0 286.4 L288.6 299.1 L285.0 296.4 L275.9 291.9 L263.3 281.9 L262.4 265.6 L259.7 262.9 L260.6 252.1 L252.4 244.8 L250.6 248.0 L252.4 230.7 L247.4 225.3 L247.4 210.8 L242.5 203.6 L240.7 193.6 L235.3 191.8 L234.4 183.7 L237.1 176.4 L238.9 152.9 Z" fill="#2f72c9" stroke="#2a69bd" stroke-width=".6" stroke-linejoin="round"/>
<g clip-path="url(#bp)">
<path d="M321.6 222 V259.5" stroke="#c9cfd8" stroke-width="1.3" fill="none"/>
<path d="M253.3 211.0 l-3.0 0.7 M252.1 204.0 l2.8 1.8 M253.4 184.3 l2.5 0.7 M286.4 220.7 l-0.9 1.4 M298.8 200.4 l-1.7 3.2 M269.1 207.3 l-0.2 1.7 M271.3 216.1 l3.1 0.3 M246.5 216.2 l-0.2 3.7 M250.3 205.0 l0.3 2.5 M307.6 204.2 l-3.5 1.9 M264.5 215.6 l1.1 1.4 M269.2 188.9 l-2.5 1.3 M290.5 196.9 l2.2 0.0 M279.4 195.4 l-2.9 0.2 M283.2 215.0 l-1.9 1.6 M277.2 212.5 l-4.1 0.5 M274.7 213.1 l1.6 0.5 M270.2 195.4 l-0.6 3.0 M275.1 229.2 l3.4 1.5 M277.3 216.2 l1.9 1.5 M289.3 199.8 l2.7 3.8 M270.9 220.5 l-3.4 1.7 M297.2 233.4 l1.9 1.5 M269.5 190.9 l1.0 1.4 M281.4 216.3 l2.6 2.5 M258.9 217.7 l-3.2 0.4 M246.5 190.5 l1.7 1.1 M286.6 188.9 l1.5 1.5 M277.7 242.0 l-3.4 1.3 M263.1 208.5 l4.8 0.6 M269.4 229.9 l3.0 3.2 M259.8 197.4 l3.4 2.1 M275.8 209.8 l-0.8 4.4 M260.7 196.5 l-2.1 0.6 M277.5 206.3 l0.3 1.7 M273.1 218.7 l-0.4 1.9 M251.6 230.7 l-3.8 0.2 M262.3 185.2 l1.5 0.7 M294.2 208.9 l-2.9 3.9 M284.9 208.0 l0.2 4.1 M281.4 214.2 l-3.1 3.4 M257.1 224.5 l-4.3 1.4 M249.6 219.1 l-3.2 1.5 M259.7 193.9 l-0.9 3.5 M283.0 216.0 l-4.6 0.1 M266.4 189.3 l-2.4 2.6 M246.7 216.2 l4.0 1.1 M284.0 209.0 l0.1 2.3 M263.5 187.2 l-1.7 4.4 M267.9 207.4 l2.3 3.1 M270.1 214.3 l-3.6 1.1 M244.4 217.0 l2.0 3.3 M272.1 221.1 l-3.9 2.7 M276.6 194.2 l-0.7 2.5 M277.2 219.2 l-3.9 2.2 M266.8 214.6 l0.4 2.4 M270.8 221.1 l-1.2 3.0 M258.8 233.0 l-3.1 0.2 M270.7 206.8 l-1.5 0.6 M264.0 184.9 l2.4 3.5 M274.4 206.0 l0.2 1.6 M272.2 194.7 l1.5 0.7 M259.0 192.4 l-1.5 3.5 M264.8 195.2 l0.2 2.1 M281.5 206.2 l-1.3 1.7 M266.5 219.6 l-1.9 2.7 M252.8 187.3 l1.4 4.0 M272.3 201.2 l-3.9 0.9 M277.0 217.8 l-1.8 4.3 M256.9 219.5 l-4.0 1.6 M280.6 198.9 l-1.0 2.0 M256.0 185.2 l3.6 2.9 M300.8 199.6 l-0.5 4.2 M256.7 236.7 l-2.4 1.2 M279.2 213.6 l-0.7 4.1 M265.1 205.3 l-1.4 1.0 M270.3 195.6 l2.1 3.7 M272.3 212.0 l-0.2 4.0 M277.8 184.3 l-3.2 0.6 M272.8 202.9 l2.6 2.1 M263.2 230.0 l-1.4 3.0 M276.5 187.9 l1.6 2.4 M274.1 235.1 l-3.3 0.3 M260.8 200.3 l-0.4 3.2 M265.8 202.7 l-3.3 0.3 M250.5 221.8 l-0.6 3.2 M266.4 199.5 l-0.4 2.9 M294.2 195.3 l2.1 2.4 M276.9 217.2 l-3.9 2.6 M257.6 207.1 l3.0 2.1 M273.6 201.2 l-1.2 1.0 M271.0 215.8 l-1.5 2.2 M257.7 222.6 l3.8 1.3 M278.3 218.3 l1.5 1.6 M255.4 201.8 l1.1 2.7 M261.0 203.3 l3.0 2.2 M258.5 190.0 l-3.2 1.6 M273.4 195.9 l-3.0 3.2 M276.6 197.0 l2.6 4.0 M272.9 199.4 l3.0 2.8 M267.7 212.2 l-2.6 1.5 M269.5 197.0 l1.2 3.7 M276.0 206.2 l-2.5 3.9 M273.8 203.4 l-0.1 4.2 M249.7 204.6 l1.4 1.0 M270.6 207.7 l-0.5 3.3 M261.9 201.2 l1.9 1.2 M272.8 201.8 l4.7 0.9 M248.2 211.4 l1.6 2.7 M255.3 203.4 l-0.5 1.5" stroke="#5b95dd" stroke-width=".55" fill="none" opacity=".8"/>
<path d="M243 150 h9 M243 156 h9 M243.5 162 h8 M281 161.5 h9 M281 166.5 h9" stroke="#5c96de" stroke-width=".6" opacity=".7" fill="none"/>
<path d="M293.9 244.7 V277.3 M314.3 244.6 V270.5 M255.9 233.6 V270.2 M295.5 251.0 V266.0 M284.0 224.9 V251.0 M290.7 215.5 V233.2 M271.9 251.7 V283.6 M264.2 246.9 V262.5 M293.5 220.1 V232.1 M309.8 223.4 V241.0 M316.9 249.9 V266.7 M315.5 236.6 V266.2 M267.1 252.6 V282.6 M315.9 250.7 V268.2 M277.1 221.6 V237.4 M258.2 227.1 V254.7 M254.2 242.1 V262.9 M273.8 247.7 V272.2 M274.2 234.2 V264.6 M257.6 254.0 V266.6 M302.0 248.8 V261.3 M304.4 229.6 V256.7 M254.6 216.9 V233.6 M315.1 222.9 V254.5 M313.5 252.7 V271.8 M276.7 236.0 V268.2" stroke="#2762b3" stroke-width=".7" fill="none" opacity=".55"/>
<ellipse cx="270" cy="205" rx="22" ry="20" fill="#4a88d6" opacity=".22" filter="url(#b2)"/>
</g>
<circle cx="295.4" cy="195.5" r="1.3" fill="#e8eef6"/>
<path d="M270 262 q2 4 5 3 q3 -1 2 -5 M268 258 q3 -3 6 0" stroke="#8a8f6a" stroke-width=".7" fill="none" opacity=".8"/>
<rect x="491.9" y="185.1" width="13.7" height="8.2" rx="1" fill="#333"/><text x="498.8" y="191.5" font-size="6.4" font-weight="bold" fill="#fff" text-anchor="middle">E75</text>
<rect x="336.7" y="221.6" width="13.4" height="7.5" rx="1" fill="#333"/><text x="343.4" y="227.4" font-size="6.4" font-weight="bold" fill="#fff" text-anchor="middle">E94</text>
<rect x="483.0" y="240.9" width="10.0" height="7.7" rx="1" fill="#333"/><text x="488.0" y="246.9" font-size="6.4" font-weight="bold" fill="#fff" text-anchor="middle">83</text>
<rect x="343.8" y="261.1" width="11.4" height="7.8" rx="1" fill="#333"/><text x="349.5" y="267.2" font-size="6.4" font-weight="bold" fill="#fff" text-anchor="middle">65</text>
<rect x="473.4" y="333.5" width="10.9" height="7.5" rx="1" fill="#333"/><text x="478.9" y="339.4" font-size="6.4" font-weight="bold" fill="#fff" text-anchor="middle">54</text>
<rect x="285.0" y="300.5" width="7.6" height="8.0" rx="1" fill="#333"/><text x="288.8" y="306.7" font-size="6.4" font-weight="bold" fill="#fff" text-anchor="middle">8</text>
<rect x="237.1" y="219.8" width="9.0" height="7.6" rx="1" fill="#333"/><text x="241.6" y="225.7" font-size="6.4" font-weight="bold" fill="#fff" text-anchor="middle">6</text>
<rect x="525.0" y="313.6" width="7.0" height="7.2" rx="1" fill="#333"/><text x="528.5" y="319.2" font-size="6.4" font-weight="bold" fill="#fff" text-anchor="middle">6</text>
<text x="103.3" y="201.1" font-size="8.6" textLength="44.7" lengthAdjust="spacingAndGlyphs"  fill="#f2f2f2" stroke="#f2f2f2" stroke-width="2" stroke-linejoin="round">Αγ. Σωτήρας</text><text x="103.3" y="201.1" font-size="8.6" textLength="44.7" lengthAdjust="spacingAndGlyphs"  fill="#333" stroke="#333" stroke-width=".3">Αγ. Σωτήρας</text>
<text x="209.5" y="226.6" font-size="8.6" textLength="22.5" lengthAdjust="spacingAndGlyphs"  fill="#f2f2f2" stroke="#f2f2f2" stroke-width="2" stroke-linejoin="round">Σκληρί</text><text x="209.5" y="226.6" font-size="8.6" textLength="22.5" lengthAdjust="spacingAndGlyphs"  fill="#333" stroke="#333" stroke-width=".3">Σκληρί</text>
<text x="186.0" y="245.5" font-size="9.03" textLength="28.9" lengthAdjust="spacingAndGlyphs"  fill="#f2f2f2" stroke="#f2f2f2" stroke-width="2" stroke-linejoin="round">Μάνδρα</text><text x="186.0" y="245.5" font-size="9.03" textLength="28.9" lengthAdjust="spacingAndGlyphs"  fill="#333" stroke="#333" stroke-width=".3">Μάνδρα</text>
<text x="154.7" y="289.2" font-size="8.6" textLength="25.8" lengthAdjust="spacingAndGlyphs"  fill="#f2f2f2" stroke="#f2f2f2" stroke-width="2" stroke-linejoin="round">Λούτσα</text><text x="154.7" y="289.2" font-size="8.6" textLength="25.8" lengthAdjust="spacingAndGlyphs"  fill="#333" stroke="#333" stroke-width=".3">Λούτσα</text>
<text x="184.1" y="287.4" font-size="8.6" textLength="22.6" lengthAdjust="spacingAndGlyphs"  fill="#f2f2f2" stroke="#f2f2f2" stroke-width="2" stroke-linejoin="round">Διόδια</text><text x="184.1" y="287.4" font-size="8.6" textLength="22.6" lengthAdjust="spacingAndGlyphs"  fill="#333" stroke="#333" stroke-width=".3">Διόδια</text>
<text x="221.7" y="293.3" font-size="9.03" textLength="33.5" lengthAdjust="spacingAndGlyphs"  fill="#f2f2f2" stroke="#f2f2f2" stroke-width="2" stroke-linejoin="round">Ελευσίνα</text><text x="221.7" y="293.3" font-size="9.03" textLength="33.5" lengthAdjust="spacingAndGlyphs"  fill="#333" stroke="#333" stroke-width=".3">Ελευσίνα</text>
<text x="60.6" y="301.1" font-size="8.17" textLength="18.7" lengthAdjust="spacingAndGlyphs"  fill="#f2f2f2" stroke="#f2f2f2" stroke-width="2" stroke-linejoin="round">Μόνη</text><text x="60.6" y="301.1" font-size="8.17" textLength="18.7" lengthAdjust="spacingAndGlyphs"  fill="#333" stroke="#333" stroke-width=".3">Μόνη</text>
<text x="47.3" y="310.7" font-size="8.17" textLength="45.9" lengthAdjust="spacingAndGlyphs"  fill="#f2f2f2" stroke="#f2f2f2" stroke-width="2" stroke-linejoin="round">Παναχράντου</text><text x="47.3" y="310.7" font-size="8.17" textLength="45.9" lengthAdjust="spacingAndGlyphs"  fill="#333" stroke="#333" stroke-width=".3">Παναχράντου</text>
<text x="126.8" y="313.4" font-size="8.6" textLength="29.3" lengthAdjust="spacingAndGlyphs"  fill="#f2f2f2" stroke="#f2f2f2" stroke-width="2" stroke-linejoin="round">Βλυχάδα</text><text x="126.8" y="313.4" font-size="8.6" textLength="29.3" lengthAdjust="spacingAndGlyphs"  fill="#333" stroke="#333" stroke-width=".3">Βλυχάδα</text>
<text x="110.0" y="341.6" font-size="8.6" textLength="46.1" lengthAdjust="spacingAndGlyphs"  fill="#f2f2f2" stroke="#f2f2f2" stroke-width="2" stroke-linejoin="round">Νέα Πέραμος</text><text x="110.0" y="341.6" font-size="8.6" textLength="46.1" lengthAdjust="spacingAndGlyphs"  fill="#333" stroke="#333" stroke-width=".3">Νέα Πέραμος</text>
<text x="346.8" y="205.8" font-size="8.6" textLength="18.1" lengthAdjust="spacingAndGlyphs"  fill="#f2f2f2" stroke="#f2f2f2" stroke-width="2" stroke-linejoin="round">Φυλή</text><text x="346.8" y="205.8" font-size="8.6" textLength="18.1" lengthAdjust="spacingAndGlyphs"  fill="#333" stroke="#333" stroke-width=".3">Φυλή</text>
<text x="400.7" y="231.5" font-size="11.52" textLength="38.7" lengthAdjust="spacingAndGlyphs"  fill="#f2f2f2" stroke="#f2f2f2" stroke-width="2" stroke-linejoin="round">Αχαρνές</text><text x="400.7" y="231.5" font-size="11.52" textLength="38.7" lengthAdjust="spacingAndGlyphs"  fill="#333" stroke="#333" stroke-width=".3">Αχαρνές</text>
<text x="461.1" y="228.9" font-size="9.98" textLength="31.9" lengthAdjust="spacingAndGlyphs"  fill="#f2f2f2" stroke="#f2f2f2" stroke-width="2" stroke-linejoin="round">Κηφισιά</text><text x="461.1" y="228.9" font-size="9.98" textLength="31.9" lengthAdjust="spacingAndGlyphs"  fill="#333" stroke="#333" stroke-width=".3">Κηφισιά</text>
<text x="498.7" y="208.5" font-size="8.6" textLength="21.4" lengthAdjust="spacingAndGlyphs"  fill="#f2f2f2" stroke="#f2f2f2" stroke-width="2" stroke-linejoin="round">Εκάλη</text><text x="498.7" y="208.5" font-size="8.6" textLength="21.4" lengthAdjust="spacingAndGlyphs"  fill="#333" stroke="#333" stroke-width=".3">Εκάλη</text>
<text x="464.0" y="275.2" font-size="11.52" textLength="38.4" lengthAdjust="spacingAndGlyphs"  fill="#f2f2f2" stroke="#f2f2f2" stroke-width="2" stroke-linejoin="round">Μαρούσι</text><text x="464.0" y="275.2" font-size="11.52" textLength="38.4" lengthAdjust="spacingAndGlyphs"  fill="#333" stroke="#333" stroke-width=".3">Μαρούσι</text>
<text x="413.8" y="291.7" font-size="9.8" textLength="40.6" lengthAdjust="spacingAndGlyphs"  fill="#f2f2f2" stroke="#f2f2f2" stroke-width="2" stroke-linejoin="round">Νέα Ιωνία</text><text x="413.8" y="291.7" font-size="9.8" textLength="40.6" lengthAdjust="spacingAndGlyphs"  fill="#333" stroke="#333" stroke-width=".3">Νέα Ιωνία</text>
<text x="379.4" y="298.8" font-size="9.12" textLength="19.9" lengthAdjust="spacingAndGlyphs"  fill="#f2f2f2" stroke="#f2f2f2" stroke-width="2" stroke-linejoin="round">Ίλιον</text><text x="379.4" y="298.8" font-size="9.12" textLength="19.9" lengthAdjust="spacingAndGlyphs"  fill="#333" stroke="#333" stroke-width=".3">Ίλιον</text>
<text x="454.4" y="322.7" font-size="11.52" textLength="42.5" lengthAdjust="spacingAndGlyphs"  fill="#f2f2f2" stroke="#f2f2f2" stroke-width="2" stroke-linejoin="round">Χαλάνδρι</text><text x="454.4" y="322.7" font-size="11.52" textLength="42.5" lengthAdjust="spacingAndGlyphs"  fill="#333" stroke="#333" stroke-width=".3">Χαλάνδρι</text>
<text x="350.5" y="337.6" font-size="11.52" textLength="47.0" lengthAdjust="spacingAndGlyphs"  fill="#f2f2f2" stroke="#f2f2f2" stroke-width="2" stroke-linejoin="round">Περιστέρι</text><text x="350.5" y="337.6" font-size="11.52" textLength="47.0" lengthAdjust="spacingAndGlyphs"  fill="#333" stroke="#333" stroke-width=".3">Περιστέρι</text>
<text x="403.8" y="135.1" font-size="8.26" textLength="29.8" lengthAdjust="spacingAndGlyphs"  fill="#5c5c5c" stroke="#5c5c5c" stroke-width=".3">Πάρνηθα</text>
<text x="404.4" y="158.6" font-size="8.43" textLength="59.1" lengthAdjust="spacingAndGlyphs"  fill="#cdcdcd" stroke="#cdcdcd" stroke-width="2" stroke-linejoin="round">Θρακομακεδόνες</text><text x="404.4" y="158.6" font-size="8.43" textLength="59.1" lengthAdjust="spacingAndGlyphs"  fill="#444" stroke="#444" stroke-width=".3">Θρακομακεδόνες</text>
<text transform="translate(203.5 331) rotate(-14.5)" font-size="8.6" fill="#6a6a6a" text-anchor="middle" textLength="59" lengthAdjust="spacingAndGlyphs">Κόλπος Ελευσίνας</text>
<text x="525.5" y="150.6" font-size="8.6" textLength="14.5" lengthAdjust="spacingAndGlyphs"  fill="#f2f2f2" stroke="#f2f2f2" stroke-width="2" stroke-linejoin="round">τέσ</text><text x="525.5" y="150.6" font-size="8.6" textLength="14.5" lengthAdjust="spacingAndGlyphs"  fill="#333" stroke="#333" stroke-width=".3">τέσ</text>
<text x="522.0" y="165.1" font-size="8.6" textLength="18.0" lengthAdjust="spacingAndGlyphs"  fill="#f2f2f2" stroke="#f2f2f2" stroke-width="2" stroke-linejoin="round">Ανοι</text><text x="522.0" y="165.1" font-size="8.6" textLength="18.0" lengthAdjust="spacingAndGlyphs"  fill="#333" stroke="#333" stroke-width=".3">Ανοι</text>
<text x="527.0" y="284.7" font-size="10.32" textLength="18.0" lengthAdjust="spacingAndGlyphs"  fill="#f2f2f2" stroke="#f2f2f2" stroke-width="2" stroke-linejoin="round">Πεν</text><text x="527.0" y="284.7" font-size="10.32" textLength="18.0" lengthAdjust="spacingAndGlyphs"  fill="#333" stroke="#333" stroke-width=".3">Πεν</text>
<rect x="325.5" y="344.3" width="206" height="11" fill="#f4f4f4" opacity=".72"/>
<text x="328.5" y="352.3" font-size="7.4" fill="#555" textLength="67.5" lengthAdjust="spacingAndGlyphs">©2020 Δεδομένα χάρτη</text>
<text x="404" y="352.3" font-size="7.4" fill="#555" textLength="36.7" lengthAdjust="spacingAndGlyphs">Όροι Χρήσης</text>
<text x="449" y="352.3" font-size="7.4" fill="#555" textLength="77.8" lengthAdjust="spacingAndGlyphs">Αναφορά σφάλματος χάρτη</text>
<text x="49.4" y="348.2" font-size="14.5" fill="#999" stroke="#999" stroke-width="1.5" opacity=".45" textLength="38" lengthAdjust="spacingAndGlyphs">Google</text>
<text x="49.4" y="348.2" font-size="14.5" fill="#fff" stroke="#fff" stroke-width=".55" textLength="38" lengthAdjust="spacingAndGlyphs">Google</text>
<text x="85.3" y="358.6" font-size="8.6" fill="#333" stroke="#eee" stroke-width="1.6" paint-order="stroke" textLength="19.6" lengthAdjust="spacingAndGlyphs">Αθήνα</text>
<rect x="499.7" y="132.1" width="25.3" height="29.9" rx="1" fill="#fff"/>
<path d="M507 144 V140.4 H510.6 M514.2 140.4 H517.8 V144 M517.8 149.2 V152.8 H514.2 M510.6 152.8 H507 V149.2" stroke="#555" stroke-width="1.5" fill="none"/>
<rect x="499.7" y="274.7" width="25.3" height="60.6" rx="1" fill="#fff"/>
<path d="M503 304.6 H521.6" stroke="#e6e6e6" stroke-width=".7"/>
<path d="M506.6 289.2 H518 M512.3 283.5 V294.9 M506.6 320.4 H518" stroke="#666" stroke-width="2.3" fill="none"/>
</svg>


  <!-- chart panel -->
  <div class="panel" style="left:538px;top:65px;width:507px;height:289px"><div class="ph"></div></div>
  <div class="btn" style="left:679.3px;width:28.6px;background:#3b62d3;border-color:#3b62d3"></div>
  <div class="btn" style="left:713.2px;width:18.4px"></div>
  <div class="btn" style="left:736.8px;width:26.6px"></div>
  <div class="btn" style="left:768.2px;width:38.8px"></div>
  <svg class="abs" style="left:568px;top:100px" width="470" height="240" viewBox="590 117 470 240">
<g fill="none" stroke="#e9e9e9" stroke-width="1">
<path d="M653.0 197.7 L666.2 183.6 L970.0 188.6"/>
<path d="M653.0 228.4 L666.2 213.6 L970.0 218.6"/>
<path d="M653.0 259.2 L666.2 242.9 L970.0 247.9"/>
<path d="M653.9 290.3 L666.2 272.4 L970.0 277.4"/>
<path d="M666.2 183.6 V272.4"/>
<path d="M817.1 186.1 V274.9 L810.6 293.6"/>
<path d="M970.0 188.6 L968.6 295.4"/>
</g>
<path d="M694.2 276.4 L701.8 265.5 L775 267.3 L770 277.3 Z" fill="#74c898" stroke="#74c898" stroke-width="1" stroke-linejoin="round"/>
<path d="M770 277.3 L775 267.3 L775 282.7 L770 292.6 Z" fill="#549b6f" stroke="#549b6f" stroke-width="1" stroke-linejoin="round"/>
<path d="M694.2 276.4 L770 277.3 L770 292.6 L694.2 291.7 Z" fill="#66b686" stroke="#66b686" stroke-width="1" stroke-linejoin="round"/>
<path d="M851.1 208.5 L854.7 198.1 L928.9 199.9 L927.1 210.4 Z" fill="#c45c59" stroke="#c45c59" stroke-width="1" stroke-linejoin="round"/>
<path d="M927.1 210.4 L928.9 199.9 L928.9 286 L927.1 296.3 Z" fill="#8c3432" stroke="#8c3432" stroke-width="1" stroke-linejoin="round"/>
<path d="M851.1 208.5 L927.1 210.4 L927.1 296.3 L851.1 294.4 Z" fill="#ae4543" stroke="#ae4543" stroke-width="1" stroke-linejoin="round"/>
<circle cx="786.2" cy="329.7" r="3.7" fill="#8ab4e8"/>
<path d="M1038.1 136.2 H1048.6 M1038.1 140.1 H1048.6 M1038.1 144 H1048.6" stroke="#555" stroke-width="1.8" fill="none"/>
<g font-family="Liberation Sans, sans-serif" font-size="9.6" fill="#555" text-anchor="middle">
<text transform="translate(613.2 244.3) rotate(-90)" textLength="109" lengthAdjust="spacingAndGlyphs">Κατανάλωση Ρεύματος</text>
<text transform="translate(623.4 244.3) rotate(-90)" textLength="33" lengthAdjust="spacingAndGlyphs">σε KWh</text>
</g>
</svg>


  <!-- savings panel -->
  <div class="panel" style="left:13px;top:369px;width:331px;height:300px"><div class="ph"></div></div>
  <div class="row" style="top:410px;height:39px;background:#f9f9f9"></div>
  <div class="row" style="top:449px;height:27px;background:#fff"></div>
  <div class="row" style="top:476px;height:26px;background:#f9f9f9"></div>
  <div class="row" style="top:502px;height:40px;background:#d9edf7"></div>
  <div class="row" style="top:542px;height:26px;background:#d9edf7;border-top-color:#cfe0ea"></div>
  <div class="row" style="top:568px;height:39px;background:#d9edf7;border-top-color:#cfe0ea"></div>

  <!-- pie panel -->
  <div class="panel" style="left:363px;top:369px;width:331px;height:300px"><div class="ph"></div></div>
  <svg class="abs" style="left:418px;top:403px" width="230" height="200" viewBox="440 420 230 200">
<path d="M613.90 511.90 A79.5 75.4 0 0 1 595.01 560.70 L595.01 582.50 A79.5 75.4 0 0 0 613.90 533.70 Z" fill="#2b5878"/>
<path d="M595.01 560.70 A79.5 75.4 0 0 1 592.67 563.20 L592.67 585.00 A79.5 75.4 0 0 0 595.01 582.50 Z" fill="#a4a66f"/>
<path d="M592.67 563.20 A79.5 75.4 0 0 1 454.90 511.90 L454.90 533.70 A79.5 75.4 0 0 0 592.67 585.00 Z" fill="#4084b6"/>
<path d="M534.4 511.9 L534.40 436.50 A79.5 75.4 0 0 1 577.78 448.71 Z" fill="#b3aea5" stroke="#b3aea5" stroke-width=".4"/>
<path d="M534.4 511.9 L577.78 448.71 A79.5 75.4 0 0 1 595.01 560.70 Z" fill="#3a7197" stroke="#3a7197" stroke-width=".4"/>
<path d="M534.4 511.9 L595.01 560.70 A79.5 75.4 0 0 1 592.67 563.20 Z" fill="#c9cc8c" stroke="#c9cc8c" stroke-width=".4"/>
<path d="M534.4 511.9 L592.67 563.20 A79.5 75.4 0 1 1 508.03 440.77 Z" fill="#55a9dc" stroke="#55a9dc" stroke-width=".4"/>
<path d="M534.4 511.9 L508.03 440.77 A79.5 75.4 0 0 1 529.37 436.65 Z" fill="#6fd6b5" stroke="#6fd6b5" stroke-width=".4"/>
<path d="M534.4 511.9 L529.37 436.65 A79.5 75.4 0 0 1 534.40 436.50 Z" fill="#1f2a5c" stroke="#1f2a5c" stroke-width=".4"/>
</svg>
<div class="lg" style="left:373.2px;top:605.7px;background:#b3aea5"></div>
<div class="lg" style="left:373.2px;top:619.2px;background:#c9cc8c"></div>
<div class="lg" style="left:373.2px;top:632.4px;background:#6fd6b5"></div>
<div class="lg" style="left:538.3px;top:605.7px;background:#3a7197"></div>
<div class="lg" style="left:538.3px;top:619.2px;background:#55a9dc"></div>
<div class="lg" style="left:538.3px;top:632.4px;background:#1f2a5c"></div>


  <!-- status panel -->
  <div class="panel" style="left:713px;top:369px;width:332px;height:300px"><div class="ph"></div></div>
  <div class="alert ok"  style="top:410px"></div>
  <div class="alert bad" style="top:463px"></div>
  <div class="alert ok"  style="top:516px"></div>
  <div class="alert bad" style="top:569px"></div>

<svg class="abs" style="left:0;top:0" width="1062" height="420" viewBox="22 17 1062 420" fill="none" stroke-linecap="round" stroke-linejoin="round">
  <!-- logo mark -->
  <path d="M33.8 38.6 A7.2 8.4 0 1 1 39.8 38.6" stroke="#adba45" stroke-width="1.7"/>
  <path d="M33.9 34.3 A4.1 4.7 0 1 1 39.7 34.3" stroke="#b5352f" stroke-width="1.9"/>
  <path d="M36.8 32.6 V42.6" stroke="#b4bccb" stroke-width="1.2"/>
  <circle cx="36.8" cy="31.2" r="1.4" fill="#fff" stroke="#9aa2b4" stroke-width=".9"/>
  <!-- LMS wordmark -->
  <g stroke="#333" stroke-width="1.45" stroke-linecap="butt" stroke-linejoin="miter">
    <path d="M47.4 23.4 V42.6 H53.4"/>
    <path d="M54.9 43.2 L57.8 23.6 L63.5 42.4 L69.5 23.6 L72.8 43.2"/>
    <path d="M84.3 26 C83.6 24.2 82.2 23.3 80.4 23.3 C77.8 23.3 76.4 25.2 76.4 27.6 C76.4 30.6 78.6 31.8 80.6 32.9 C83 34.2 85.2 35.6 85.2 38.6 C85.2 41.6 83.2 43.5 80.4 43.5 C78 43.5 76.2 42.2 75.5 40.3"/>
  </g>
  <!-- nav icons -->
  <g stroke="#444" stroke-width="1">
    <ellipse cx="237.6" cy="30" rx="2.3" ry="2.8"/>
    <path d="M237.6 32.8 V40.2"/>
    <circle cx="237.7" cy="29.4" r=".6" stroke-width=".5"/>
    <!-- clock -->
    <circle cx="315.1" cy="34.7" r="5.5"/>
    <path d="M315.1 31.4 V34.9 H318.4"/>
    <path d="M313.6 26.6 H316.6 M315.1 26.8 V29"/>
    <!-- infinity -->
    <path d="M386.2 33.3 C384.8 31.2 383.6 30.3 382.3 30.3 C380.6 30.3 379.6 31.7 379.6 33.3 C379.6 34.9 380.6 36.3 382.3 36.3 C383.6 36.3 384.8 35.4 386.2 33.3 C387.6 31.2 388.8 30.3 390.1 30.3 C391.8 30.3 392.8 31.7 392.8 33.3 C392.8 34.9 391.8 36.3 390.1 36.3 C388.8 36.3 387.6 35.4 386.2 33.3 Z" stroke-width="1.1"/>
    <!-- bars -->
    <path d="M456.2 41.4 H469.6"/>
    <path d="M457.3 39.8 V35.2 H460 V39.8 M461.3 39.8 V32.2 H464.3 V39.8 M465.6 39.8 V28.4 H468.3 V39.8" stroke-width=".9"/>
    <!-- edit -->
    <path d="M571.2 29.8 H563.6 V40.8 H575.2 V34.6"/>
    <path d="M567.6 37.4 L568.3 34.6 L574.2 27.8 L576 29.3 L570.2 36.2 Z" stroke-width=".9" fill="#999"/>
    <!-- user -->
    <circle cx="1039" cy="31.8" r="2.9"/>
    <path d="M1037.4 34.4 C1036.8 36.6 1034.4 36.6 1033.9 39.6 H1044.1 C1043.6 36.6 1041.2 36.6 1040.6 34.4"/>
  </g>
  <!-- logout -->
  <g stroke="none" fill="#3572b0">
    <path d="M1053.8 44.6 H1051.4 Q1050.5 44.6 1050.5 45.5 V50.1 Q1050.5 51 1051.4 51 H1053.8 V49.8 H1051.8 V45.8 H1053.8 Z"/>
    <path d="M1052.8 46.6 H1055.2 V44.7 L1058.4 47.8 L1055.2 50.9 V49 H1052.8 Z"/>
  </g>
  <!-- panel heading icons -->
  <g stroke="#444" stroke-width=".8">
    <circle cx="48.6" cy="97.5" r="4.1" fill="#4a4a4a" stroke="none"/>
    <path d="M48.6 93.4 V101.6 M44.5 97.5 H52.7" stroke="#f5f5f5" stroke-width=".6"/>
    <ellipse cx="48.6" cy="97.5" rx="1.9" ry="4" stroke="#f5f5f5" stroke-width=".5"/>
    <path d="M575 94 L572.6 98 H574.6 L573.2 101.6 L576 97.2 H574 Z" fill="#444" stroke="none"/>
  </g>
  <!-- bottom panel heading icons -->
  <g stroke="#444" stroke-width=".9">
    <path d="M44.8 402.4 L47.2 400 L48.8 401.2 L52 398.2 M50.2 398 H52.2 V400"/>
    <path d="M44.6 405.2 H52.8" stroke-width="1"/>
    <rect x="395.3" y="396.4" width="4.4" height="5.2" rx=".6"/>
    <rect x="398" y="399.4" width="4.6" height="5.2" rx=".6" fill="#555"/>
    <path d="M399 401.3 h2.6 M399 402.9 h2.6" stroke="#ddd" stroke-width=".5"/>
    <circle cx="749.3" cy="398.9" r="2.1" stroke-width="1"/>
    <circle cx="749.3" cy="398.9" r=".5" fill="#444" stroke="none"/>
    <path d="M748.3 401.4 H750.3 V404.6 H748.3 Z" fill="#444" stroke-width=".6"/>
  </g>
</svg>

<span class="t" style="left:6.0px;top:31.1px;font-size:11.3px;color:#444;transform:scaleX(0.8105);">Δήμος Ασπροπύργου</span>
<span class="t" style="left:193.8px;top:28.1px;font-size:11px;color:#555;transform:scaleX(0.8862);">Φωτιστικά</span>
<span class="t" style="left:277.9px;top:28.1px;font-size:11px;color:#555;transform:scaleX(0.8829);">Κόμβοι</span>
<span class="t" style="left:348.5px;top:28.1px;font-size:11px;color:#555;transform:scaleX(0.8895);">Δρόμοι</span>
<span class="t" style="left:419.4px;top:28.1px;font-size:11px;color:#555;transform:scaleX(0.8662);">Αναφορές</span>
<span class="t" style="left:501.9px;top:28.1px;font-size:11px;color:#555;transform:scaleX(0.8882);">Στοιχεία Καταγραφής</span>
<span class="t" style="left:996.7px;top:25.7px;font-size:9.5px;color:#555;transform:scaleX(0.9465);">globitel</span>
<span class="t" style="left:31.6px;top:76.1px;font-size:9.6px;color:#3a3a3a;transform:scaleX(0.8523);">Χάρτης Φωτιστικών</span>
<span class="t" style="left:558.0px;top:76.1px;font-size:9.6px;color:#3a3a3a;transform:scaleX(0.8424);">Κατανάλωση Φωτιστικών</span>
<span class="t" style="left:32.8px;top:379.5px;font-size:9.6px;color:#3a3a3a;transform:scaleX(0.8462);">Εξοικονόμηση από αρχή λειτουργίας</span>
<span class="t" style="left:382.4px;top:379.5px;font-size:9.6px;color:#3a3a3a;transform:scaleX(0.8515);">Σύνολα Φωτιστικών</span>
<span class="t" style="left:733.7px;top:379.5px;font-size:9.6px;color:#3a3a3a;transform:scaleX(0.8486);">Κατάσταση Μετρητών / Φωτιστικών</span>
<span class="t" style="left:686.3px;top:76.0px;font-size:9.4px;color:#fff;transform:scaleX(0.8164);">Kwh</span>
<span class="t" style="left:720.2px;top:76.0px;font-size:9.4px;color:#444;transform:scaleX(0.8048);">€</span>
<span class="t" style="left:744.0px;top:76.0px;font-size:9.4px;color:#444;transform:scaleX(0.7868);">co2</span>
<span class="t" style="left:775.1px;top:76.0px;font-size:9.4px;color:#444;transform:scaleX(0.8482);">Δέντρα</span>
<span class="t" style="left:702.3px;top:113.6px;font-size:13.4px;color:#333;transform:scaleX(0.9523);">Κατανάλωση Ρεύματος σε KWh</span>
<span class="t" style="left:728.7px;top:137.6px;font-size:9.7px;color:#555;transform:scaleX(0.8463);">Εξοικονόμηση:</span>
<span class="t" style="left:787.0px;top:137.6px;font-size:9.7px;color:#333;font-weight:bold;-webkit-text-stroke:.22px;transform:scaleX(0.8598);">1.170.786,04KWh</span>
<span class="t" style="left:600.2px;top:176.7px;font-size:8.6px;color:#666;transform:scaleX(0.8910);">1 500k</span>
<span class="t" style="left:600.2px;top:206.9px;font-size:8.6px;color:#666;transform:scaleX(0.8910);">1 000k</span>
<span class="t" style="left:607.5px;top:237.6px;font-size:8.6px;color:#666;transform:scaleX(0.8422);">500k</span>
<span class="t" style="left:619.2px;top:268.3px;font-size:8.6px;color:#666;transform:scaleX(0.8366);">0</span>
<span class="t" style="left:702.0px;top:278.0px;font-size:13.2px;color:#de5f48;transform:scaleX(0.6353);">LED</span>
<span class="t" style="left:843.6px;top:280.3px;font-size:13.2px;color:#de5f48;transform:scaleX(0.7652);">Συμβατικά</span>
<span class="t" style="left:772.6px;top:307.9px;font-size:9.5px;color:#333;font-weight:bold;-webkit-text-stroke:.22px;transform:scaleX(0.8842);">Κατανάλωση</span>
<span class="t" style="left:27.9px;top:419.6px;font-size:10px;color:#333;font-weight:bold;-webkit-text-stroke:.22px;transform:scaleX(0.7964);">Κατανάλωση</span>
<span class="t" style="left:27.9px;top:432.8px;font-size:10px;color:#333;font-weight:bold;-webkit-text-stroke:.22px;transform:scaleX(0.8309);">Συμβατικών</span>
<span class="t" style="left:110.8px;top:419.8px;font-size:10px;color:#555;transform:scaleX(0.7848);">1.896.591,90 <span style="font-size:7px">Kwh</span></span>
<span class="t" style="left:27.9px;top:458.5px;font-size:10px;color:#333;font-weight:bold;-webkit-text-stroke:.22px;transform:scaleX(0.7642);">Κατανάλωση LED</span>
<span class="t" style="left:110.8px;top:458.8px;font-size:10px;color:#555;transform:scaleX(0.7885);">398.670,60 <span style="font-size:7px">Kwh</span></span>
<span class="t" style="left:27.9px;top:484.7px;font-size:10px;color:#333;font-weight:bold;-webkit-text-stroke:.22px;transform:scaleX(0.7785);">Τιμή Kwh</span>
<span class="t" style="left:110.8px;top:485.0px;font-size:10px;color:#555;transform:scaleX(0.7653);">0.1479 <span style="font-size:7.4px">€</span></span>
<span class="t" style="left:27.9px;top:510.5px;font-size:10px;color:#333;font-weight:bold;-webkit-text-stroke:.22px;transform:scaleX(0.7895);">Εξοικονόμηση σε</span>
<span class="t" style="left:27.9px;top:523.8px;font-size:10px;color:#333;font-weight:bold;-webkit-text-stroke:.22px;transform:scaleX(0.7722);">Kwh</span>
<span class="t" style="left:110.8px;top:510.9px;font-size:10px;color:#555;transform:scaleX(0.7848);">1.497.921,30 <span style="font-size:7px">Kwh</span></span>
<span class="t" style="left:27.9px;top:550.0px;font-size:10px;color:#333;font-weight:bold;-webkit-text-stroke:.22px;transform:scaleX(0.7908);">Εξοικονόμηση σε €</span>
<span class="t" style="left:110.8px;top:550.4px;font-size:10px;color:#555;transform:scaleX(0.7620);">221.542,56 <span style="font-size:7.4px">€</span></span>
<span class="t" style="left:27.9px;top:576.6px;font-size:10px;color:#333;font-weight:bold;-webkit-text-stroke:.22px;transform:scaleX(0.7665);">Ποσοστό</span>
<span class="t" style="left:27.9px;top:589.4px;font-size:10px;color:#333;font-weight:bold;-webkit-text-stroke:.22px;transform:scaleX(0.7981);">Εξοικονόμησης</span>
<span class="t" style="left:110.8px;top:577.0px;font-size:10px;color:#333;font-weight:bold;-webkit-text-stroke:.22px;transform:scaleX(0.7813);">78,98 <span style="font-size:7px">%</span></span>
<span class="t" style="left:733.9px;top:424.5px;font-size:9.8px;color:#3c763d;transform:scaleX(0.8423);">Μετρητές σε ομαλή λειτουργία</span>
<span class="t" style="left:846.0px;top:424.5px;font-size:9.8px;color:#2b542c;font-weight:bold;-webkit-text-stroke:.22px;transform:scaleX(0.7763);">296</span>
<span class="t" style="left:733.9px;top:477.5px;font-size:9.8px;color:#4a78a8;transform:scaleX(0.8221);">Μετρητές προς έλεγχο</span>
<span class="t" style="left:816.2px;top:477.5px;font-size:9.8px;color:#2f5f93;font-weight:bold;-webkit-text-stroke:.22px;transform:scaleX(0.7427);">25</span>
<span class="t" style="left:733.9px;top:530.4px;font-size:9.8px;color:#3c763d;transform:scaleX(0.8412);">Φωτιστικά σε ομαλή λειτουργία (εκτίμηση)</span>
<span class="t" style="left:888.5px;top:530.4px;font-size:9.8px;color:#2b542c;font-weight:bold;-webkit-text-stroke:.22px;transform:scaleX(0.7799);">7914</span>
<span class="t" style="left:733.9px;top:583.4px;font-size:9.8px;color:#4a78a8;transform:scaleX(0.8277);">Φωτιστικά προς έλεγχο (εκτίμηση)</span>
<span class="t" style="left:858.1px;top:583.4px;font-size:9.8px;color:#2f5f93;font-weight:bold;-webkit-text-stroke:.22px;transform:scaleX(0.7794);">22</span>
<span class="t" style="left:384.6px;top:604.7px;font-size:9px;color:#555;transform:scaleX(0.8101);text-decoration:underline;text-decoration-thickness:.6px;">GL-CN-07-XX-NW<span style="display:inline-block">:</span></span>
<span class="t" style="left:449.2px;top:604.7px;font-size:9px;color:#222;font-weight:bold;-webkit-text-stroke:.22px;transform:scaleX(0.8183);">729</span>
<span class="t" style="left:384.6px;top:618.3px;font-size:9px;color:#5d80a6;transform:scaleX(0.8288);">GL-FL5-150-03-137:</span>
<span class="t" style="left:455.5px;top:618.3px;font-size:9px;color:#222;font-weight:bold;-webkit-text-stroke:.22px;transform:scaleX(0.8087);">56</span>
<span class="t" style="left:384.6px;top:631.2px;font-size:9px;color:#5d80a6;transform:scaleX(0.8289);">GL-ST300-W090-057:</span>
<span class="t" style="left:460.9px;top:631.2px;font-size:9px;color:#222;font-weight:bold;-webkit-text-stroke:.22px;transform:scaleX(0.8050);">347</span>
<span class="t" style="left:550.2px;top:604.7px;font-size:9px;color:#5d80a6;transform:scaleX(0.8069);">GL-CN-30-XX-NW:</span>
<span class="t" style="left:614.2px;top:604.7px;font-size:9px;color:#222;font-weight:bold;-webkit-text-stroke:.22px;transform:scaleX(0.8686);">2144</span>
<span class="t" style="left:550.2px;top:618.3px;font-size:9px;color:#5d80a6;transform:scaleX(0.8222);">GL-ST300-W060-025:</span>
<span class="t" style="left:625.6px;top:618.3px;font-size:9px;color:#222;font-weight:bold;-webkit-text-stroke:.22px;transform:scaleX(0.8587);">4580</span>
<span class="t" style="left:550.2px;top:631.2px;font-size:9px;color:#5d80a6;transform:scaleX(0.8222);">GL-ST300-W090-075:</span>
<span class="t" style="left:625.6px;top:631.2px;font-size:9px;color:#222;font-weight:bold;-webkit-text-stroke:.22px;transform:scaleX(0.8087);">80</span>
<span class="t" style="left:522.8px;top:433.1px;font-size:8px;color:#fff;transform:scaleX(0.8007);">9.2%</span>
<span class="t" style="left:570.2px;top:484.4px;font-size:8px;color:#fff;transform:scaleX(0.8117);">27%</span>
<span class="t" style="left:451.0px;top:524.8px;font-size:8px;color:#fff;transform:scaleX(0.8595);">57.7%</span>
</div>

</body>
</html>
